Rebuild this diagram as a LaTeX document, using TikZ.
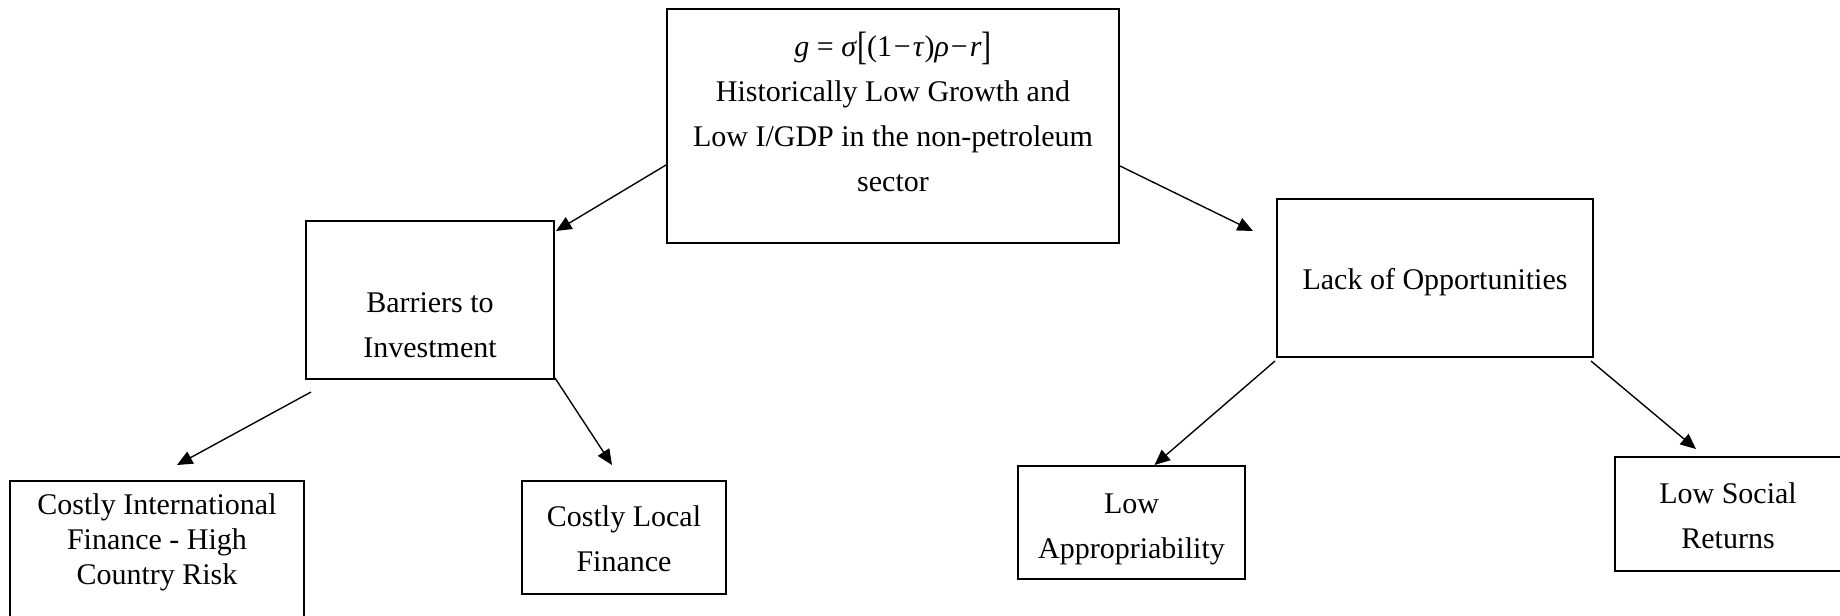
\documentclass[tikz,border=0pt]{standalone}
\usepackage{fontspec}
\setmainfont{Liberation Serif}
\usetikzlibrary{arrows.meta,calc}
\newcommand\boxtxt[2]{\raisebox{#1}[0pt][0pt]{\begin{tabular}{@{}c@{}}#2\end{tabular}}}
\newcommand\bigbr[1]{\raisebox{-0.08em}{\scalebox{1}[1.32]{#1}}}
\newcommand\mminus{\hspace{0.8pt}−\hspace{0.8pt}}
\tikzset{
  box/.style={draw, line width=0.8pt, inner sep=0pt, font=\fontsize{12}{18}\selectfont},
  arr/.style={-{Triangle[length=6.2pt,width=5.4pt]}, line width=0.55pt}
}
\begin{document}
\begin{tikzpicture}[x=0.4pt,y=-0.4pt]
\useasboundingbox (0,0) rectangle (1840,615);
\node[box, minimum width=180.8pt, minimum height=93.6pt] (top) at (893,126)
  {\boxtxt{1.3pt}{\textit{g} = \textit{σ}\bigbr{[}(1\mminus\textit{τ})\textit{ρ}\mminus\textit{r}\bigbr{]}\\Historically Low Growth and\\Low I/GDP in the non-petroleum\\sector}};
\node[box, minimum width=99.2pt, minimum height=63.2pt] (barriers) at (430,300)
  {\boxtxt{-13.3pt}{Barriers to\\Investment}};
\node[box, minimum width=126.4pt, minimum height=63.2pt] (lack) at (1435,278)
  {\boxtxt{-4.1pt}{Lack of Opportunities}};
\node[box, font=\fontsize{12}{14}\selectfont, minimum width=117.6pt, minimum height=57.6pt] (costint) at (157,553)
  {\boxtxt{1.1pt}{Costly International\\Finance - High\\Country Risk}};
\node[box, minimum width=81.6pt, minimum height=45.2pt] (costloc) at (624,537.5)
  {\boxtxt{-4.1pt}{Costly Local\\Finance}};
\node[box, minimum width=90.8pt, minimum height=45.2pt] (lowapp) at (1131.5,522.5)
  {\boxtxt{-4.7pt}{Low\\Appropriability}};
\node[box, minimum width=90.4pt, minimum height=45.6pt] (lowsoc) at (1728,514)
  {\boxtxt{-4.3pt}{Low Social\\Returns}};
\draw[arr] ($(top.west)+(0,39)$) -- ($(barriers.north east)+(1,11)$);
\draw[arr] ($(top.east)+(0,40)$) -- ($(lack.north west)+(-23,33)$);
\draw[arr] ($(barriers.south west)+(6,12)$) -- ($(costint.north)+(20,-15)$);
\draw[arr] ($(barriers.south east)+(0,-2)$) -- ($(costloc.north)+(-12,-15)$);
\draw[arr] ($(lack.south west)+(-1,3)$) -- ($(lowapp.north)+(23,0)$);
\draw[arr] ($(lack.south east)+(-3,3)$) -- ($(lowsoc.north)+(-32,-7)$);
\end{tikzpicture}
\end{document}
